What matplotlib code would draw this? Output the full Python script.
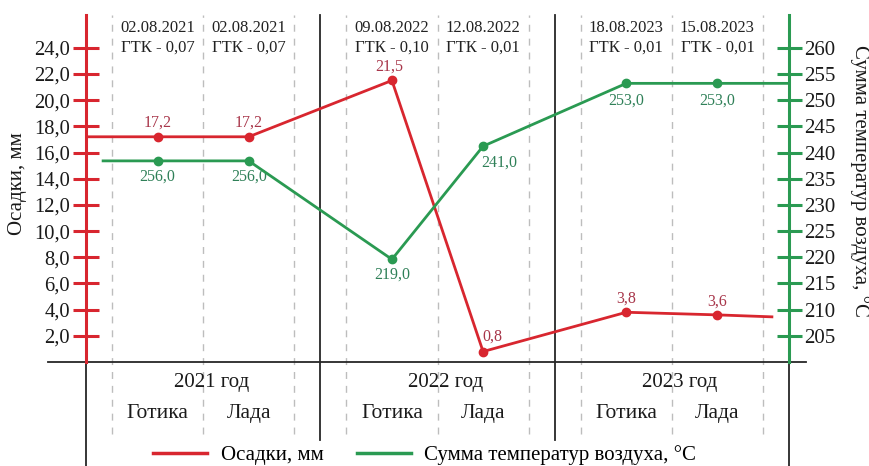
import matplotlib
matplotlib.use("Agg")
import matplotlib.pyplot as plt
from matplotlib.lines import Line2D
import numpy as np

plt.rcParams['font.family'] = ['Liberation Serif', 'DejaVu Serif']

# ---- data ----
years = ['2021 год', '2022 год', '2023 год']
varieties = ['Готика', 'Лада']
dates = ['02.08.2021', '02.08.2021', '09.08.2022', '12.08.2022', '18.08.2023', '15.08.2023']
gtk = ['ГТК - 0,07', 'ГТК - 0,07', 'ГТК - 0,10', 'ГТК - 0,01', 'ГТК - 0,01', 'ГТК - 0,01']
precip = [17.2, 17.2, 21.5, 0.8, 3.8, 3.6]
precip_labels = ['17,2', '17,2', '21,5', '0,8', '3,8', '3,6']
temp = [238.4, 238.4, 219.6, 241.2, 253.2, 253.2]          # plotted positions
temp_labels = ['256,0', '256,0', '219,0', '241,0', '253,0', '253,0']
precip_ends = [17.2, 3.45]   # line start / end values
temp_ends = [238.4, 253.2]

left_ticks = np.arange(2, 25, 2)
right_ticks = np.arange(205, 261, 5)

RED = '#d8262f'
RED_TXT = '#a8364a'
GREEN = '#2a9a52'
GREEN_TXT = '#2f8058'
DARK = '#262626'
GRAY = '#bdbdbd'

# ---- positions ----
n_sec = len(years)
offs = [(1/9 + 1/2) / 2, (1/2 + 8/9) / 2]
xs = [s + o for s in range(n_sec) for o in offs]

fig = plt.figure(figsize=(8.69, 4.66), dpi=100)
ymin, ymax = -7.94, 26.5
ax = fig.add_axes([86/869, 0, 703/869, 451/466])
ax.set_xlim(0, 3)
ax.set_ylim(ymin, ymax)
ax2 = ax.twinx()
ax2.set_ylim(200 + ymin*2.5, 200 + ymax*2.5)

for sp in ['top', 'bottom', 'right']:
    ax.spines[sp].set_visible(False)
for sp in ['top', 'bottom', 'left']:
    ax2.spines[sp].set_visible(False)
ax.spines['left'].set_color(RED)
ax.spines['left'].set_linewidth(2.2)
ax.spines['left'].set_bounds(0, ymax)
ax2.spines['right'].set_color(GREEN)
ax2.spines['right'].set_linewidth(2.2)
ax2.spines['right'].set_bounds(200, 200 + ymax*2.5)

ax.set_xticks([])
ax.set_yticks(left_ticks)
ax.set_yticklabels([f'{v:.1f}'.replace('.', ',') for v in left_ticks])
ax.tick_params(axis='y', direction='inout', length=19, width=2.2, color=RED,
               labelsize=14.8, pad=2, labelcolor='#1a1a1a')
ax2.set_yticks(right_ticks)
ax2.set_yticklabels([str(v) for v in right_ticks])
ax2.tick_params(axis='y', direction='inout', length=18, width=2.2, color=GREEN,
                labelsize=15, pad=2, labelcolor='#1a1a1a')

# grid / separators
for s in range(n_sec):
    for d in [1/9, 1/2, 8/9]:
        ax.plot([s + d, s + d], [-5.5, ymax], color=GRAY, lw=1, ls=(0, (5, 5)),
                clip_on=False, zorder=1)
for s in [1, 2]:
    ax.plot([s, s], [-5.95, ymax], color=DARK, lw=1.3, clip_on=False, zorder=2)
for s in [0, 3]:
    ax.plot([s, s], [ymin, 0], color=DARK, lw=1.3, clip_on=False, zorder=2)
ax.plot([-0.162, 3.073], [0, 0], color=DARK, lw=1.3, clip_on=False, zorder=2)

# lines
ax.plot([0] + xs + [2.927], [precip_ends[0]] + precip + [precip_ends[1]],
        color=RED, lw=2, zorder=4)
ax.plot(xs, precip, 'o', color=RED, ms=6, zorder=5)
ax2.plot([0.073] + xs + [3.0], [temp_ends[0]] + temp + [temp_ends[1]],
         color=GREEN, lw=2, zorder=4)
ax2.plot(xs, temp, 'o', color=GREEN, ms=6, zorder=5)

# value labels
p_off = [(0, 14), (0, 14), (-3, 14), (9, 15), (0, 14), (0, 13)]
for x, v, lab, o in zip(xs, precip, precip_labels, p_off):
    ax.annotate(lab, (x, v), xytext=o, textcoords='offset pixels',
                ha='center', va='center', fontsize=11.5, color=RED_TXT)
t_off = [(0, -16), (0, -16), (0, -15), (16, -16), (0, -17), (0, -17)]
for x, v, lab, o in zip(xs, temp, temp_labels, t_off):
    ax2.annotate(lab, (x, v), xytext=o, textcoords='offset pixels',
                 ha='center', va='center', fontsize=11.5, color=GREEN_TXT)

# date labels
for x, d, g in zip(xs, dates, gtk):
    ax.text(x, 25.5, d, ha='center', va='center', fontsize=12, color='#222')
    ax.text(x, 23.97, g, ha='center', va='center', fontsize=12, color='#222')

# category labels
for s, y in enumerate(years):
    ax.text(s + 0.535, -1.53, y, ha='center', va='center', fontsize=15, color='#1a1a1a')
for i, x in enumerate(xs):
    ax.text(x, -3.9, varieties[i % 2], ha='center', va='center', fontsize=15.5,
            color='#1a1a1a')

# axis titles
fig.text(18/869, 1 - 184/466, 'Осадки, мм', rotation=90, ha='center', va='center',
         fontsize=15, color='#1a1a1a')
fig.text(860/869, 1 - 181/466, 'Сумма температур воздуха, °С', rotation=270,
         ha='center', va='center', fontsize=15, color='#1a1a1a')

# legend
handles = [Line2D([], [], color=RED, lw=2.5), Line2D([], [], color=GREEN, lw=2.5)]
fig.legend(handles, ['Осадки, мм', 'Сумма температур воздуха, °С'],
           loc='center left', bbox_to_anchor=(153/869, 11/466), ncol=2,
           frameon=False, fontsize=15, handlelength=2.6, handletextpad=0.65,
           columnspacing=1.6, borderpad=0, borderaxespad=0)

fig.savefig('out.png', dpi=100)
